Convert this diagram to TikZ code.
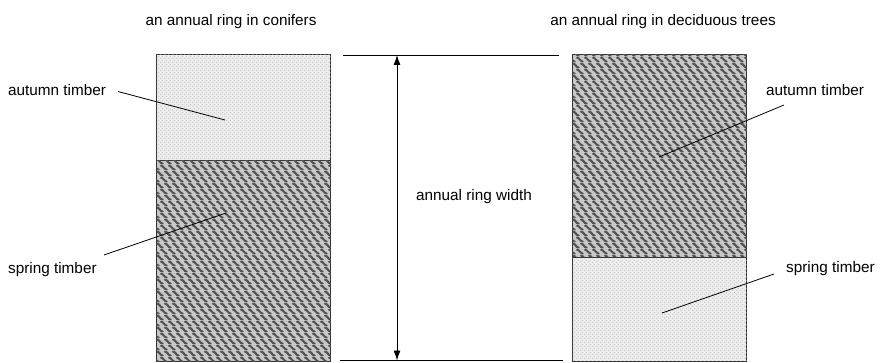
\documentclass[tikz,border=0pt]{standalone}
\usepackage{fontspec}
\setmainfont{Liberation Sans}
\usetikzlibrary{patterns,arrows.meta}

% woven texture of the dense (dark) wood: staggered rows of S-shaped marks
\pgfdeclarepatternformonly{weave}{\pgfqpoint{-1pt}{-1pt}}{\pgfqpoint{9pt}{13pt}}{\pgfqpoint{8pt}{12pt}}{%
  \pgfsetlinewidth{1.9pt}\pgfsetroundcap
  \pgfpathmoveto{\pgfqpoint{1pt}{5.2pt}}%
  \pgfpathcurveto{\pgfqpoint{3.3pt}{5.8pt}}{\pgfqpoint{4.2pt}{1.2pt}}{\pgfqpoint{6.8pt}{1.4pt}}%
  \pgfpathmoveto{\pgfqpoint{5pt}{11.2pt}}%
  \pgfpathcurveto{\pgfqpoint{7.3pt}{11.8pt}}{\pgfqpoint{8.2pt}{7.2pt}}{\pgfqpoint{10.8pt}{7.4pt}}%
  \pgfpathmoveto{\pgfqpoint{-3pt}{11.2pt}}%
  \pgfpathcurveto{\pgfqpoint{-0.7pt}{11.8pt}}{\pgfqpoint{0.2pt}{7.2pt}}{\pgfqpoint{2.8pt}{7.4pt}}%
  \pgfusepath{stroke}}
% fine stipple of the loose (light) wood
\pgfdeclarepatternformonly{stipple}{\pgfqpoint{0pt}{0pt}}{\pgfqpoint{4pt}{4pt}}{\pgfqpoint{4pt}{4pt}}{%
  \pgfpathcircle{\pgfqpoint{1pt}{1pt}}{0.75pt}%
  \pgfpathcircle{\pgfqpoint{3pt}{3pt}}{0.6pt}%
  \pgfusepath{fill}}

\tikzset{
  wood/.style={draw=black!80, line width=1.3pt, anchor=north west, inner sep=0pt,
    minimum width=174pt},
  lightwood/.style={wood, fill=black!7, postaction={pattern=stipple, pattern color=black!28}},
  darkwood/.style={wood, fill=black!22, postaction={pattern=weave, pattern color=black!68}},
  lbl/.style={font=\fontsize{15.3}{17}\selectfont, inner sep=0pt},
  leader/.style={draw=black, line width=0.8pt},
  rule/.style={draw=black, line width=0.9pt},
}

\begin{document}
\begin{tikzpicture}[x=1pt,y=-1pt]
\useasboundingbox (0,0) rectangle (880,363);

% titles
\node[lbl] (t1) at (231,22) {an annual ring in conifers};
\node[lbl] (t2) at (663,22) {an annual ring in deciduous trees};

% conifer ring: narrow autumn zone on top of spring zone
\node[lightwood, minimum height=106pt] (cA) at (156,54) {};
\node[darkwood, minimum height=201pt] (cS) at (156,160) {};

% deciduous ring: dense autumn zone on top of spring zone
\node[darkwood, minimum height=203pt] (dA) at (572,54) {};
\node[lightwood, minimum height=104pt] (dS) at (572,257) {};

% ring width dimension
\coordinate (topL) at (343,55);
\coordinate (topR) at (559,55);
\coordinate (botL) at (340,360.5);
\coordinate (botR) at (563,360.5);
\coordinate (aTop) at (397,55);
\coordinate (aBot) at (397,360.5);
\draw[rule] (topL) -- (topR);
\draw[rule] (botL) -- (botR);
\draw[rule, {Latex[length=10pt,width=7pt]}-{Latex[length=10pt,width=7pt]}] (aTop) -- (aBot);
\node[lbl, anchor=west] (w) at (416,197) {annual ring width};

% labels with leader lines
\node[lbl, anchor=west] (la1) at (8,90) {autumn timber};
\coordinate (la1s) at (118,91.5);
\coordinate (la1e) at (225,120);
\draw[leader] (la1s) -- (la1e);

\node[lbl, anchor=west] (ls1) at (8,270) {spring timber};
\coordinate (ls1s) at (104,255);
\coordinate (ls1e) at (226,213);
\draw[leader] (ls1s) -- (ls1e);

\node[lbl, anchor=west] (la2) at (766,90) {autumn timber};
\coordinate (la2s) at (784,105);
\coordinate (la2e) at (659,157);
\draw[leader] (la2s) -- (la2e);

\node[lbl, anchor=west] (ls2) at (786,269) {spring timber};
\coordinate (ls2s) at (774,274);
\coordinate (ls2e) at (662,313);
\draw[leader] (ls2s) -- (ls2e);
\end{tikzpicture}
\end{document}
